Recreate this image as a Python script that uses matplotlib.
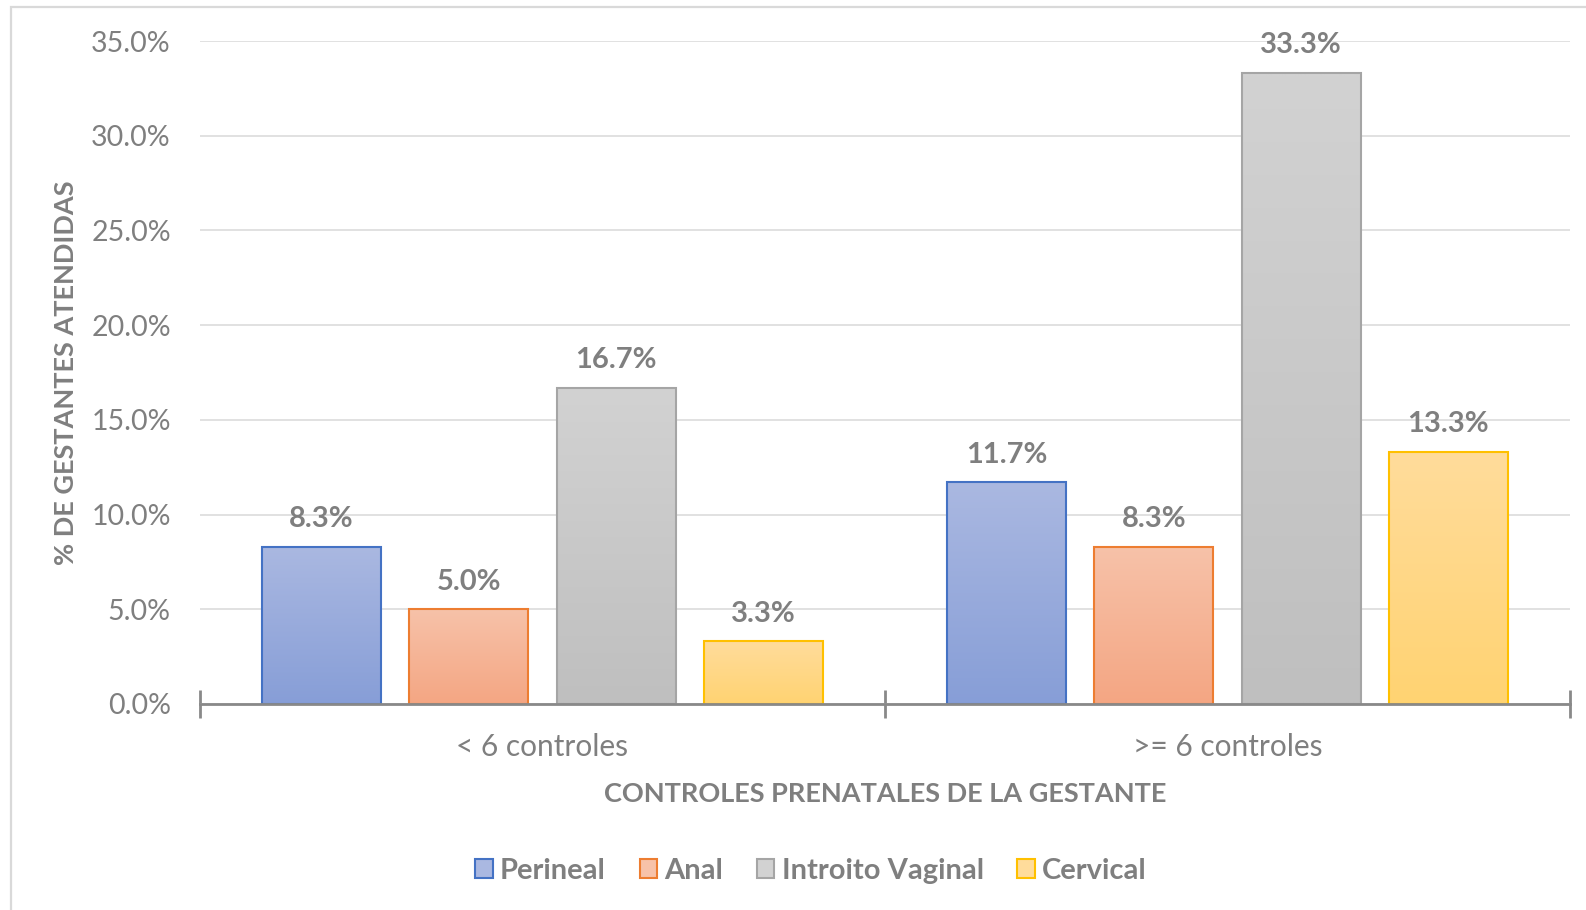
import matplotlib
matplotlib.use("Agg")
import matplotlib.pyplot as plt
import numpy as np
from matplotlib.patches import Patch, Rectangle
from matplotlib.colors import to_rgb

categories = ["< 6 controles", ">= 6 controles"]
series = ["Perineal", "Anal", "Introito Vaginal", "Cervical"]
perineal = [8.3, 11.7]
anal = [5.0, 8.3]
introito = [16.7, 33.3]
cervical = [3.3, 13.3]
values = [perineal, anal, introito, cervical]
yticks = [0, 5, 10, 15, 20, 25, 30, 35]

edge_cols = ["#4472C4", "#ED7D31", "#A5A5A5", "#FFC000"]
top_cols = ["#AAB8E1", "#F7C2A9", "#D2D2D2", "#FFDC9B"]
bot_cols = ["#879ED7", "#F4A683", "#BFBFBF", "#FFD372"]

TXT = "#7F7F7F"
FONT = "Lato"
plt.rcParams["font.family"] = [FONT, "DejaVu Sans"]

fig = plt.figure(figsize=(15.86, 9.10), dpi=100)
W, H = 1586, 910
ax_l, ax_r, ax_b, ax_t = 200, 1570, 704, 40.5
ax = fig.add_axes([ax_l / W, 1 - ax_b / H, (ax_r - ax_l) / W, (ax_b - ax_t) / H])

# figure border
fig.patches.append(Rectangle((11 / W, -0.05), 1.2, 1 - 7.5 / H + 0.05, transform=fig.transFigure,
                             fill=False, edgecolor="#D9D9D9", lw=1.6, zorder=0))

bw = 0.174
step = 0.215
x = np.arange(len(categories))
for i, (s, vals) in enumerate(zip(series, values)):
    pos = x + (i - 1.5) * step
    bars = ax.bar(pos, vals, width=bw, facecolor="none", edgecolor=edge_cols[i], lw=1.5, zorder=3)
    t = np.array(to_rgb(top_cols[i]))
    b = np.array(to_rgb(bot_cols[i]))
    grad = np.linspace(0, 1, 100)[:, None, None]
    img = t * (1 - grad) + b * grad
    for bar, v in zip(bars, vals):
        x0 = bar.get_x()
        im = ax.imshow(img, extent=[x0, x0 + bw, 0, v], aspect="auto", origin="upper", zorder=2,
                       interpolation="bilinear")
        im.set_clip_path(bar)
        ax.annotate(f"{v:.1f}%", (x0 + bw / 2, v), xytext=(0, 20), textcoords="offset points",
                    ha="center", va="center", fontsize=21, fontweight="bold", color=TXT)

ax.set_xlim(-0.5, 1.5)
ax.set_ylim(0, 35.03)
ax.set_yticks(yticks)
ax.set_yticklabels([f"{v:.1f}%" for v in yticks])
ax.set_xticks(x)
ax.set_xticklabels(categories)
ax.set_xticks([-0.5, 0.5, 1.5], minor=True)
ax.tick_params(axis="x", which="major", length=0, pad=21, labelsize=21.5, labelcolor=TXT)
ax.tick_params(axis="x", which="minor", length=20, width=2, direction="inout", color="#898989")
ax.tick_params(axis="y", length=0, pad=21, labelsize=20.5, labelcolor=TXT)

ax.grid(axis="y", color="#D9D9D9", lw=1.1, zorder=0)
ax.set_axisbelow(True)
for sp in ["top", "right", "left"]:
    ax.spines[sp].set_visible(False)
ax.spines["bottom"].set_color("#898989")
ax.spines["bottom"].set_linewidth(2)
ax.spines["bottom"].set_zorder(4)

ax.set_ylabel("% DE GESTANTES ATENDIDAS", fontsize=19.5, fontweight="bold", color=TXT, va="center")
ax.yaxis.set_label_coords((66 - ax_l) / (ax_r - ax_l), 0.5)
ax.set_xlabel("CONTROLES PRENATALES DE LA GESTANTE", fontsize=19.5, fontweight="bold", color=TXT, va="center")
ax.xaxis.set_label_coords(0.5, -(794 - ax_b) / (ax_b - ax_t))

handles = [Patch(facecolor=top_cols[i], edgecolor=edge_cols[i], lw=1.5, label=series[i]) for i in range(4)]
leg = fig.legend(handles=handles, loc="center", bbox_to_anchor=(811 / W, 1 - 871 / H), ncol=4,
                 frameon=False, handlelength=0.6, handleheight=0.6, handletextpad=0.25,
                 columnspacing=1.15, prop={"weight": "bold", "size": 21})
for t in leg.get_texts():
    t.set_color(TXT)

fig.savefig("out.png", dpi=100)
